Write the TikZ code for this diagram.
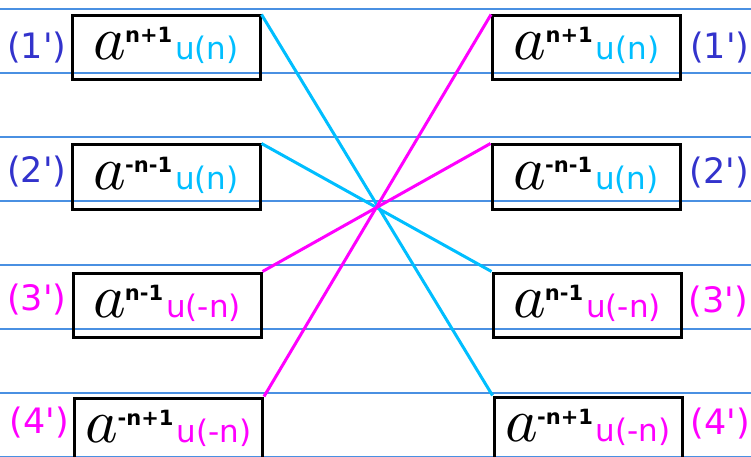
\documentclass[tikz,border=0pt]{standalone}
\usepackage{fontspec}
\setmainfont{DejaVu Sans}[Ligatures=TeXOff]
\usepackage{graphicx}
\usepackage{xcolor}
\usetikzlibrary{positioning}

\definecolor{sigcyan}{RGB}{0,190,255}
\definecolor{sigmag}{RGB}{255,0,255}
\definecolor{tagblue}{RGB}{51,51,204}
\definecolor{ruleblue}{RGB}{74,144,226}

% a^{exp} followed by the coloured step term
\newcommand{\aterm}[3]{\scalebox{6.2}{\normalsize$a$}\kern-1pt\raisebox{17pt}{\fontsize{21}{21}\selectfont\bfseries #1}\kern3pt\textcolor{#2}{#3}}

\begin{document}
\begin{tikzpicture}[
  x=1pt, y=-1pt,
  sigbox/.style={draw=black, line width=3pt, minimum width=188pt, minimum height=64pt,
    inner sep=0pt, text height=30pt, text depth=6pt, font=\fontsize{31}{36}\selectfont},
  tag/.style={inner sep=0pt, font=\fontsize{35}{40}\selectfont},
  link/.style={line width=3pt},
]
\useasboundingbox (0,0) rectangle (751,457);

% --- ruled paper ---
\foreach \y in {9,73,...,457}
  \draw[ruleblue, line width=1.3pt] (0,\y) -- (751,\y);

% --- left column ---
\node[sigbox] (L1) at (166,48) {\aterm{n+1}{sigcyan}{u(n)}};
\node[sigbox] (L2) at (166,177) {\aterm{-n-1}{sigcyan}{u(n)}};
\node[sigbox] (L3) at (167,305) {\aterm{n-1}{sigmag}{u(-n)}};
\node[sigbox] (L4) at (168.5,430) {\aterm{-n+1}{sigmag}{u(-n)}};

\node[tag, text=tagblue, left=4pt of L1] (tl1) {(1')};
\node[tag, text=tagblue, left=4pt of L2, yshift=5pt] (tl2) {(2')};
\node[tag, text=sigmag, left=5pt of L3, yshift=5pt] (tl3) {(3')};
\node[tag, text=sigmag, left=4pt of L4, yshift=7pt] (tl4) {(4')};

% --- right column ---
\node[sigbox] (R1) at (586.5,48) {\aterm{n+1}{sigcyan}{u(n)}};
\node[sigbox] (R2) at (586,177) {\aterm{-n-1}{sigcyan}{u(n)}};
\node[sigbox] (R3) at (587,305) {\aterm{n-1}{sigmag}{u(-n)}};
\node[sigbox] (R4) at (588,429) {\aterm{-n+1}{sigmag}{u(-n)}};

\node[tag, text=tagblue, right=8pt of R1] (tr1) {(1')};
\node[tag, text=tagblue, right=8pt of R2, yshift=4pt] (tr2) {(2')};
\node[tag, text=sigmag, right=6pt of R3, yshift=3pt] (tr3) {(3')};
\node[tag, text=sigmag, right=7pt of R4, yshift=5pt] (tr4) {(4')};

% --- crossing connectors ---
\draw[link, sigcyan] (L1.north east) -- (R4.north west);
\draw[link, sigcyan] (L2.north east) -- (R3.north west);
\draw[link, sigmag] (L3.north east) -- (R2.north west);
\draw[link, sigmag] (L4.north east) -- (R1.north west);

\end{tikzpicture}
\end{document}
